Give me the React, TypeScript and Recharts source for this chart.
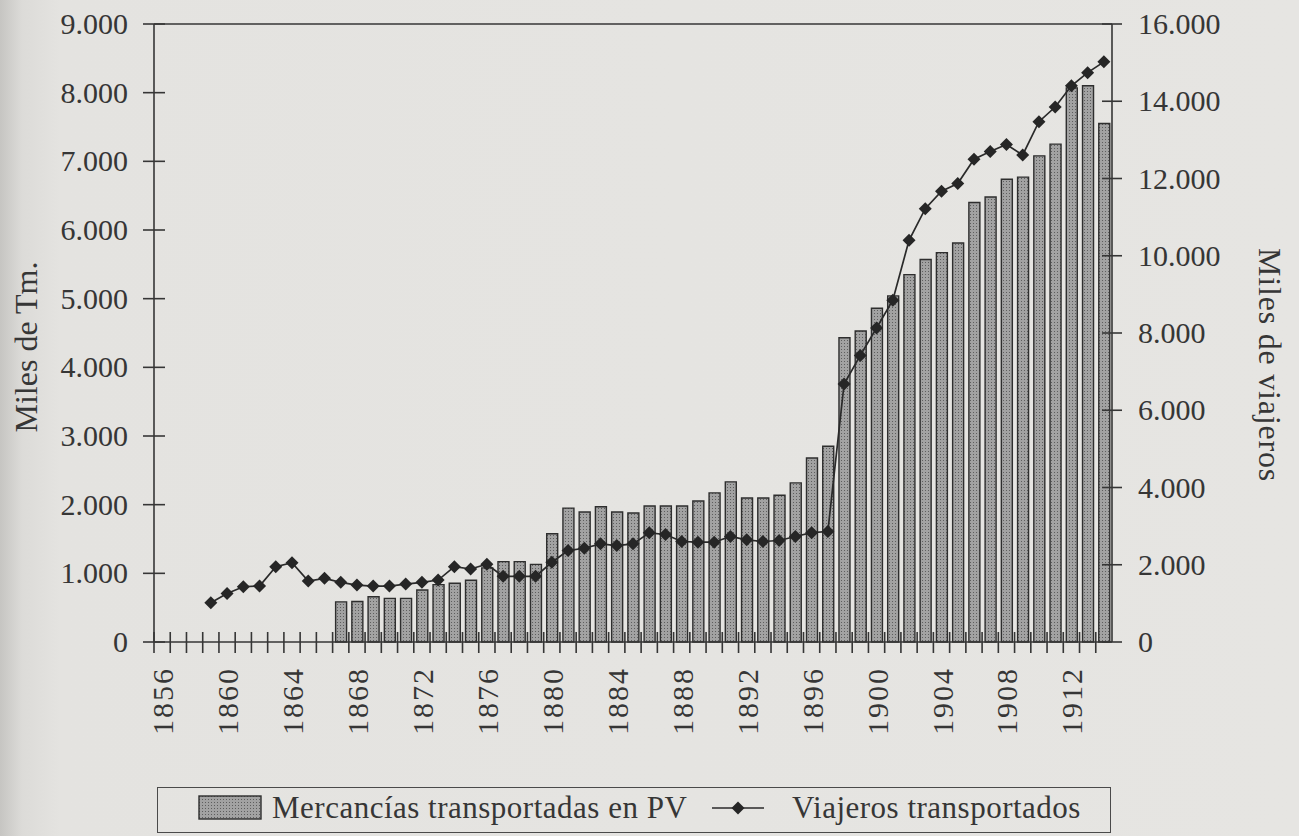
import { ComposedChart, Bar, Line, XAxis, YAxis, ReferenceLine } from "recharts"

const years = [
  1856, 1857, 1858, 1859, 1860, 1861, 1862, 1863, 1864, 1865, 1866, 1867, 1868, 1869, 1870,
  1871, 1872, 1873, 1874, 1875, 1876, 1877, 1878, 1879, 1880, 1881, 1882, 1883, 1884, 1885,
  1886, 1887, 1888, 1889, 1890, 1891, 1892, 1893, 1894, 1895, 1896, 1897, 1898, 1899, 1900,
  1901, 1902, 1903, 1904, 1905, 1906, 1907, 1908, 1909, 1910, 1911, 1912, 1913, 1914,
]

// miles de Tm. (eje izquierdo)
const mercancias = [
  null, null, null, null, null, null, null, null, null, null, null, 585, 590, 660, 635,
  635, 757, 835, 855, 900, 1080, 1170, 1170, 1130, 1576, 1950, 1893, 1970, 1893, 1878,
  1980, 1980, 1980, 2054, 2171, 2332, 2098, 2098, 2137, 2317, 2680, 2850, 4430, 4530, 4860,
  5040, 5350, 5570, 5670, 5810, 6400, 6480, 6740, 6770, 7080, 7250, 8070, 8100, 7550,
]

// miles de viajeros (eje derecho)
const viajeros = [
  null, null, null, 1015, 1257, 1431, 1448, 1951, 2055, 1578, 1648, 1544, 1474, 1448, 1448,
  1500, 1544, 1604, 1951, 1890, 2012, 1700, 1700, 1700, 2064, 2367, 2428, 2541, 2497, 2541,
  2827, 2784, 2602, 2584, 2584, 2732, 2645, 2602, 2628, 2732, 2830, 2860, 6680, 7420, 8130,
  8850, 10400, 11220, 11670, 11870, 12500, 12700, 12880, 12610, 13470, 13850, 14400, 14740, 15020,
]

const leftTicks = [0, 1000, 2000, 3000, 4000, 5000, 6000, 7000, 8000, 9000]
const rightTicks = [0, 2000, 4000, 6000, 8000, 10000, 12000, 14000, 16000]

const data = years.map((year, i) => ({ year, mercancias: mercancias[i], viajeros: viajeros[i] }))

const ink = "#363636"
const font = "'Liberation Serif', 'Times New Roman', serif"

const fmt = (v: number) => String(v).replace(/\B(?=(\d{3})+(?!\d))/g, ".")

function LeftTick(props: any) {
  const { x, y, payload } = props
  return (
    <g>
      <line x1={x - 11} x2={x + 11} y1={y} y2={y} stroke={ink} strokeWidth={1.6} />
      <text x={x - 26} y={y} dy={10} textAnchor="end" fill={ink} fontSize={30} fontFamily={font}>
        {fmt(payload.value)}
      </text>
    </g>
  )
}

function RightTick(props: any) {
  const { x, y, payload } = props
  return (
    <g>
      <line x1={x - 10} x2={x + 10} y1={y} y2={y} stroke={ink} strokeWidth={1.6} />
      <text x={x + 26} y={y} dy={10} textAnchor="start" fill={ink} fontSize={30} fontFamily={font}>
        {fmt(payload.value)}
      </text>
    </g>
  )
}

function YearTick(props: any) {
  const { x, y, payload } = props
  const half = payload?.offset ?? 8.1
  const showLabel = years.indexOf(payload.value) % 4 === 0
  return (
    <g>
      <line x1={x - half} x2={x - half} y1={y - 10} y2={y + 11} stroke={ink} strokeWidth={1.6} />
      {showLabel && (
        <text
          x={x + 11}
          y={y + 25}
          textAnchor="end"
          transform={`rotate(-90, ${x + 11}, ${y + 25})`}
          fill={ink}
          fontSize={30}
          letterSpacing={2}
          fontFamily={font}
        >
          {payload.value}
        </text>
      )}
    </g>
  )
}

function Diamond(props: any) {
  const { cx, cy, index } = props
  if (cx == null || cy == null || props.value == null) return <g key={`d-${index}`} />
  const r = 6.5
  return (
    <path
      key={`d-${index}`}
      d={`M${cx},${cy - r}L${cx + r},${cy}L${cx},${cy + r}L${cx - r},${cy}Z`}
      fill="#262626"
    />
  )
}

export default function App() {
  return (
    <div
      style={{
        position: "absolute",
        left: 0,
        top: 0,
        width: 1299,
        height: 836,
        overflow: "hidden",
        background: "linear-gradient(to right, #c6c5c2 0px, #dcdbd8 22px, #e4e3e0 60px, #e6e5e2 100%)",
      }}
    >
      <ComposedChart
        width={1299}
        height={836}
        data={data}
        margin={{ top: 24, right: 0, bottom: 84, left: 0 }}
      >
        <defs>
          <pattern id="stipple" width="3" height="3" patternUnits="userSpaceOnUse">
            <rect width="3" height="3" fill="#a2a2a2" />
            <rect x="1" y="1" width="1" height="1" fill="#5e5e5e" />
          </pattern>
        </defs>
        <XAxis
          dataKey="year"
          height={110}
          interval={0}
          tickLine={false}
          tickSize={0}
          tickMargin={0}
          axisLine={{ stroke: ink, strokeWidth: 1.6 }}
          tick={<YearTick />}
        />
        <YAxis
          yAxisId="left"
          width={154}
          domain={[0, 9000]}
          ticks={leftTicks}
          tickLine={false}
          tickSize={0}
          tickMargin={0}
          axisLine={{ stroke: ink, strokeWidth: 1.6 }}
          tick={<LeftTick />}
          label={(p: any) => {
            const cy = p.viewBox.y + p.viewBox.height / 2 + 14
            return (
              <text
                x={37}
                y={cy}
                textAnchor="middle"
                transform={`rotate(-90, 37, ${cy})`}
                fill={ink}
                fontSize={32}
                fontFamily={font}
              >
                Miles de Tm.
              </text>
            )
          }}
        />
        <YAxis
          yAxisId="right"
          orientation="right"
          width={187}
          domain={[0, 16000]}
          ticks={rightTicks}
          tickLine={false}
          tickSize={0}
          tickMargin={0}
          axisLine={{ stroke: ink, strokeWidth: 1.6 }}
          tick={<RightTick />}
          label={(p: any) => {
            const cy = p.viewBox.y + p.viewBox.height / 2 + 32
            return (
              <text
                x={1259}
                y={cy}
                textAnchor="middle"
                transform={`rotate(90, 1259, ${cy})`}
                fill={ink}
                fontSize={32}
                letterSpacing={0.8}
                fontFamily={font}
              >
                Miles de viajeros
              </text>
            )
          }}
        />
        <ReferenceLine yAxisId="left" y={9000} stroke={ink} strokeWidth={1.6} />
        <Bar
          yAxisId="left"
          dataKey="mercancias"
          barSize={11}
          fill="url(#stipple)"
          stroke="#2e2e2e"
          strokeWidth={1.4}
          isAnimationActive={false}
        />
        <Line
          yAxisId="right"
          dataKey="viajeros"
          stroke="#2a2a2a"
          strokeWidth={1.7}
          dot={(p: any) => <Diamond {...p} />}
          activeDot={false}
          isAnimationActive={false}
        />
      </ComposedChart>
      <div
        style={{
          position: "absolute",
          left: 157,
          top: 787,
          width: 954,
          height: 46,
          border: `1.6px solid #4a4a4a`,
          boxSizing: "border-box",
        }}
      >
        <svg width={954} height={46} style={{ position: "absolute", left: -1.6, top: -1.6 }}>
          <defs>
            <pattern id="stippleLegend" width="3" height="3" patternUnits="userSpaceOnUse">
              <rect width="3" height="3" fill="#a2a2a2" />
              <rect x="1" y="1" width="1" height="1" fill="#5e5e5e" />
            </pattern>
          </defs>
          <rect x={43} y={10} width={62} height={23} fill="url(#stippleLegend)" stroke="#2e2e2e" strokeWidth={1.4} />
          <text x={116} y={32} fill={ink} fontSize={31} letterSpacing={0.5} fontFamily={font}>
            Mercancías transportadas en PV
          </text>
          <line x1={556} x2={608} y1={22} y2={22} stroke="#2a2a2a" strokeWidth={1.7} />
          <path d="M582,15.5L588.5,22L582,28.5L575.5,22Z" fill="#262626" />
          <text x={636} y={32} fill={ink} fontSize={31} letterSpacing={0.5} fontFamily={font}>
            Viajeros transportados
          </text>
        </svg>
      </div>
    </div>
  )
}
